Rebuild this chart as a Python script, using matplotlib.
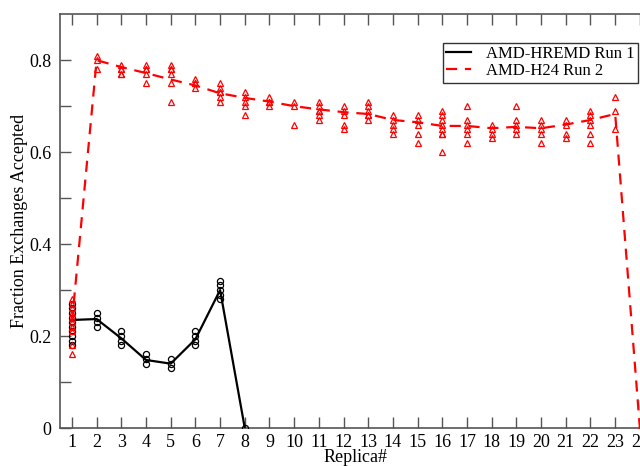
"""Fraction of accepted exchanges per replica for two AMD runs."""

import matplotlib
matplotlib.use('Agg')
import matplotlib.pyplot as plt

# Replica indices
replicas_run1 = [1, 2, 3, 4, 5, 6, 7, 8]
replicas_run2 = list(range(1, 25))

# AMD-HREMD Run 1: mean line and individual samples per replica
run1_mean = [0.235, 0.237, 0.195, 0.148, 0.140, 0.193, 0.300, 0.0]
run1_samples = [
    [0.27, 0.26, 0.25, 0.24, 0.23, 0.22, 0.21, 0.20, 0.19, 0.18],
    [0.25, 0.24, 0.23, 0.22],
    [0.21, 0.20, 0.19, 0.18],
    [0.16, 0.15, 0.14],
    [0.15, 0.14, 0.13],
    [0.21, 0.20, 0.19, 0.18],
    [0.32, 0.31, 0.30, 0.29, 0.28],
    [0.0],
]

# AMD-H24 Run 2: mean line and individual samples per replica
run2_mean = [0.23, 0.800, 0.785, 0.772, 0.758, 0.745, 0.728, 0.718,
             0.710, 0.700, 0.693, 0.687, 0.683, 0.670, 0.665, 0.657,
             0.657, 0.652, 0.655, 0.652, 0.660, 0.670, 0.683, 0.0]
run2_samples = [
    [0.28, 0.27, 0.26, 0.25, 0.24, 0.23, 0.22, 0.21, 0.18, 0.16],
    [0.81, 0.80, 0.78],
    [0.79, 0.78, 0.78, 0.77, 0.77],
    [0.79, 0.78, 0.78, 0.77, 0.75],
    [0.79, 0.78, 0.78, 0.77, 0.75, 0.71],
    [0.76, 0.75, 0.75, 0.74],
    [0.75, 0.74, 0.73, 0.73, 0.72, 0.71],
    [0.73, 0.72, 0.71, 0.70, 0.68],
    [0.72, 0.71, 0.71, 0.70],
    [0.71, 0.70, 0.66],
    [0.71, 0.70, 0.69, 0.69, 0.68, 0.67],
    [0.70, 0.69, 0.68, 0.66, 0.65],
    [0.71, 0.70, 0.69, 0.68, 0.68, 0.67],
    [0.68, 0.67, 0.66, 0.65, 0.64],
    [0.68, 0.67, 0.66, 0.64, 0.62],
    [0.69, 0.68, 0.67, 0.66, 0.65, 0.64, 0.64, 0.60],
    [0.70, 0.67, 0.66, 0.65, 0.64, 0.62],
    [0.66, 0.65, 0.64, 0.63],
    [0.70, 0.67, 0.66, 0.65, 0.64],
    [0.67, 0.66, 0.65, 0.64, 0.62],
    [0.67, 0.66, 0.64, 0.63],
    [0.69, 0.68, 0.67, 0.66, 0.64, 0.62],
    [0.72, 0.69, 0.65],
    [0.0],
]

x_ticks = list(range(1, 25))
y_ticks = [0, 0.2, 0.4, 0.6, 0.8]
y_minor = [0.1, 0.3, 0.5, 0.7]


def flatten(xs, samples):
    px, py = [], []
    for x, vals in zip(xs, samples):
        px.extend([x] * len(vals))
        py.extend(vals)
    return px, py


plt.rcParams['font.family'] = ['Liberation Serif', 'DejaVu Serif']
plt.rcParams['font.size'] = 13

fig = plt.figure(figsize=(6.4, 4.66), dpi=100)
ax = fig.add_axes([0.0931, 0.0815, 0.926, 0.888])

# Run 1
l1, = ax.plot(replicas_run1, run1_mean, color='black', linewidth=1.6,
              label='AMD-HREMD Run 1', zorder=3)
sx, sy = flatten(replicas_run1, run1_samples)
ax.plot(sx, sy, linestyle='none', marker='o', markersize=4.4,
        markerfacecolor='none', markeredgecolor='black',
        markeredgewidth=0.9, zorder=4)

# Run 2
l2, = ax.plot(replicas_run2, run2_mean, color='red', linewidth=1.6,
              dashes=(5, 3.5), label='AMD-H24 Run 2', zorder=5)
sx, sy = flatten(replicas_run2, run2_samples)
ax.plot(sx, sy, linestyle='none', marker='^', markersize=4.4,
        markerfacecolor='none', markeredgecolor='red',
        markeredgewidth=0.9, zorder=6)

ax.set_xlim(0.5, 24.5)
ax.set_ylim(0, 0.9)
ax.set_xticks(x_ticks)
ax.set_xticklabels([str(t) for t in x_ticks])
ax.set_yticks(y_ticks)
ax.set_yticklabels(['0', '0.2', '0.4', '0.6', '0.8'])
ax.set_yticks(y_minor, minor=True)

for s in ax.spines.values():
    s.set_color('#555555')
    s.set_linewidth(1.2)
ax.tick_params(axis='both', which='both', direction='in', length=8,
               width=1.0, color='#555555', top=True, right=True)
ax.tick_params(axis='x', pad=4)
ax.tick_params(axis='y', pad=6)

ax.set_xlabel('Replica#', fontsize=13, labelpad=-1)
ax.set_ylabel('Fraction Exchanges Accepted', fontsize=13, labelpad=1)

leg = ax.legend(handles=[l1, l2], loc='upper right',
                bbox_to_anchor=(638 / 640, 1 - 43 / 466),
                bbox_transform=fig.transFigure, borderaxespad=0,
                fancybox=False, framealpha=1, edgecolor='#333333',
                handlelength=1.5, handletextpad=0.9, borderpad=0.2,
                labelspacing=0.05, fontsize=12)
leg.get_frame().set_linewidth(1.0)

fig.savefig('out.png', dpi=100)
